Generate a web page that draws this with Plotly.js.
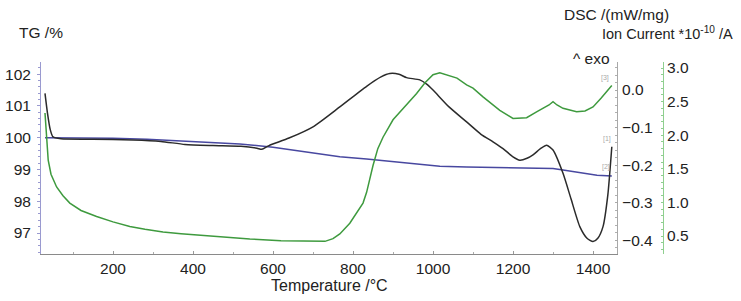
<!DOCTYPE html>
<html>
<head>
<meta charset="utf-8">
<script src="https://cdn.plot.ly/plotly-3.0.1.min.js"></script>
<style>
  html, body { margin: 0; padding: 0; background: #fff; }
  #chart { width: 741px; height: 301px; }
</style>
</head>
<body>
<div id="chart"></div>
<script>
// ---- Data ----
// Temperature axis ticks
const xTickVals = [200, 400, 600, 800, 1000, 1200, 1400];

// TG curve (%), blue
const tgT   = [30, 100, 200, 285, 400, 517, 600, 700, 767, 834, 935, 1017, 1084, 1160, 1240, 1300, 1325, 1370, 1410, 1447];
const tgVal = [100.0, 100.0, 99.98, 99.95, 99.88, 99.8, 99.7, 99.52, 99.4, 99.33, 99.19, 99.1, 99.08, 99.07, 99.05, 99.03, 98.98, 98.9, 98.82, 98.79];

// DSC curve (mW/mg), black
const dscT   = [30, 36, 43, 50, 70, 150, 250, 320, 380, 450, 520, 560, 572, 590, 640, 700, 767, 834, 870, 892, 915, 934, 967, 985, 1000, 1040, 1084, 1120, 1150, 1175, 1200, 1217, 1235, 1250, 1270, 1284, 1300, 1325, 1345, 1367, 1385, 1400, 1412, 1425, 1437, 1447];
const dscVal = [-0.009, -0.06, -0.105, -0.125, -0.13, -0.131, -0.133, -0.137, -0.145, -0.148, -0.15, -0.155, -0.158, -0.148, -0.128, -0.098, -0.045, 0.01, 0.035, 0.044, 0.042, 0.033, 0.027, 0.015, 0.0, -0.045, -0.085, -0.118, -0.138, -0.156, -0.178, -0.187, -0.182, -0.173, -0.155, -0.147, -0.16, -0.222, -0.29, -0.364, -0.395, -0.404, -0.395, -0.364, -0.28, -0.151];

// Ion current (*10^-10 A), green
const ionT   = [30, 34, 38, 45, 59, 75, 92, 120, 159, 200, 242, 280, 325, 370, 409, 460, 542, 620, 709, 730, 750, 767, 792, 809, 825, 834, 850, 862, 875, 900, 934, 959, 980, 1000, 1017, 1042, 1060, 1084, 1100, 1125, 1150, 1167, 1200, 1234, 1260, 1290, 1300, 1310, 1325, 1359, 1380, 1400, 1420, 1447];
const ionVal = [2.33, 2.0, 1.63, 1.42, 1.23, 1.1, 0.99, 0.88, 0.79, 0.71, 0.64, 0.6, 0.56, 0.535, 0.515, 0.49, 0.455, 0.43, 0.415, 0.42, 0.46, 0.53, 0.69, 0.85, 0.99, 1.15, 1.55, 1.8, 1.97, 2.23, 2.45, 2.62, 2.78, 2.9, 2.93, 2.88, 2.85, 2.75, 2.7, 2.57, 2.45, 2.37, 2.25, 2.26, 2.35, 2.45, 2.5, 2.45, 2.4, 2.35, 2.36, 2.42, 2.55, 2.74];

// ---- Chart ----
const FONT = "Liberation Sans, Arial, sans-serif";
const TXT = "#222";

const traces = [
  { x: tgT, y: tgVal, type: "scatter", mode: "lines", name: "TG",
    line: { color: "#4848a0", width: 1.5 }, yaxis: "y", hoverinfo: "skip" },
  { x: dscT, y: dscVal, type: "scatter", mode: "lines", name: "DSC",
    line: { color: "#2b2b2b", width: 1.5, shape: "spline", smoothing: 0.6 }, yaxis: "y2", hoverinfo: "skip" },
  { x: ionT, y: ionVal, type: "scatter", mode: "lines", name: "Ion Current",
    line: { color: "#3e9a3e", width: 1.5 }, yaxis: "y3", hoverinfo: "skip" }
];

const layout = {
  width: 741, height: 301,
  margin: { l: 41, r: 70, t: 62, b: 47 },
  paper_bgcolor: "#fff", plot_bgcolor: "#fff",
  showlegend: false,
  font: { family: FONT, size: 15.5, color: TXT },
  xaxis: {
    domain: [0, 0.9143], range: [20, 1460],
    tickvals: xTickVals, ticks: "inside", ticklen: 3, tickcolor: "#999",
    minor: { dtick: 100, tick0: 0, ticks: "inside", ticklen: 2, tickcolor: "#aaa" },
    showline: true, linecolor: "#8a8a8a", linewidth: 1,
    showgrid: false, zeroline: false, ticklabelstandoff: 0,
    tickfont: { family: FONT, size: 15.5, color: TXT }
  },
  yaxis: {
    range: [96.34, 102.38], tickvals: [97, 98, 99, 100, 101, 102],
    ticks: "outside", ticklen: 3, tickcolor: "#9a9ad0",
    minor: { dtick: 0.2, ticks: "outside", ticklen: 2, tickcolor: "#9a9ad0" },
    showline: true, linecolor: "#9a9ad0", linewidth: 1,
    showgrid: false, zeroline: false, ticklabelstandoff: 3,
    tickfont: { family: FONT, size: 15.5, color: TXT }
  },
  yaxis2: {
    overlaying: "y", side: "right", anchor: "x",
    range: [-0.437, 0.0747], tickvals: [0, -0.1, -0.2, -0.3, -0.4], tickformat: ".1f",
    ticks: "inside", ticklen: 2, tickcolor: "#aaa",
    minor: { dtick: 0.02, ticks: "inside", ticklen: 2, tickcolor: "#b0b0b0" },
    showline: true, linecolor: "#a8a8a8", linewidth: 1,
    showgrid: false, zeroline: false, ticklabelstandoff: 1,
    tickfont: { family: FONT, size: 15.5, color: TXT }
  },
  yaxis3: {
    overlaying: "y", side: "right", anchor: "free", position: 0.9873,
    range: [0.232, 3.09], tickvals: [0.5, 1.0, 1.5, 2.0, 2.5, 3.0], tickformat: ".1f",
    ticks: "inside", ticklen: 2, tickcolor: "#8fcf8f",
    minor: { dtick: 0.1, ticks: "inside", ticklen: 2, tickcolor: "#8fcf8f" },
    showline: true, linecolor: "#8fcf8f", linewidth: 1,
    showgrid: false, zeroline: false, ticklabelstandoff: 0,
    tickfont: { family: FONT, size: 15.5, color: TXT }
  },
  annotations: [
    { text: "TG /%", xref: "paper", yref: "paper", x: -0.0381, y: 1.1536,
      xanchor: "left", yanchor: "middle", showarrow: false, font: { size: 15.5, color: TXT } },
    { text: "DSC /(mW/mg)", xref: "paper", yref: "paper", x: 0.827, y: 1.25,
      xanchor: "left", yanchor: "middle", showarrow: false, font: { size: 15.5, color: TXT } },
    { text: "Ion Current *10<sup>-10</sup> /A", xref: "paper", yref: "paper", x: 1.1016, y: 1.151,
      xanchor: "right", yanchor: "middle", showarrow: false, font: { size: 14.5, color: TXT } },
    { text: "^ exo", xref: "paper", yref: "paper", x: 0.9063, y: 1.0208,
      xanchor: "right", yanchor: "middle", showarrow: false, font: { size: 15.5, color: TXT } },
    { text: "Temperature /°C", xref: "paper", yref: "paper", x: 0.4587, y: -0.1615,
      xanchor: "center", yanchor: "middle", showarrow: false, font: { size: 16, color: TXT } },
    { text: "[3]", xref: "paper", yref: "paper", x: 0.8952, y: 0.9167,
      xanchor: "center", yanchor: "middle", showarrow: false, font: { size: 7, color: "#aaa" } },
    { text: "[1]", xref: "paper", yref: "paper", x: 0.898, y: 0.599,
      xanchor: "center", yanchor: "middle", showarrow: false, font: { size: 7, color: "#aaa" } },
    { text: "[2]", xref: "paper", yref: "paper", x: 0.897, y: 0.453,
      xanchor: "center", yanchor: "middle", showarrow: false, font: { size: 7, color: "#aaa" } }
  ]
};

Plotly.newPlot("chart", traces, layout, { staticPlot: true, displayModeBar: false });
</script>
</body>
</html>
